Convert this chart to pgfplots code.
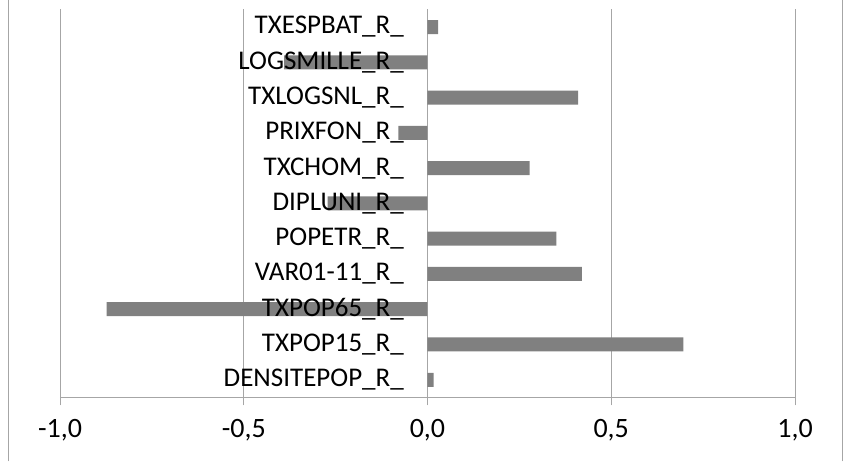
\documentclass[border=0pt]{standalone}
\usepackage{pgfplots}
\usepackage{fontspec}
\setmainfont{Carlito}
\pgfplotsset{compat=1.18}
\definecolor{barfill}{HTML}{808080}
\definecolor{linegray}{HTML}{A6A6A6}

\begin{document}
\fontsize{27}{32}\selectfont
\begin{tikzpicture}
\begin{axis}[
  scale only axis,
  width=735pt, height=388pt,
  xmin=-1, xmax=1,
  ymin=-0.5, ymax=10.5,
  axis x line=bottom,
  axis y line=middle,
  axis line style={-, linegray, line width=0.8pt},
  xtick={-1,-0.5,0,0.5,1},
  xticklabels={{-1,0},{-0,5},{0,0},{0,5},{1,0}},
  xmajorgrids,
  grid style={linegray, line width=0.8pt},
  ytick=\empty,
  minor ytick={-0.5,0.5,...,10.5},
  minor y tick style={linegray, line width=0.8pt},
  major x tick style={linegray, line width=0.8pt},
  tick align=outside,
  major tick length=8pt,
  minor tick length=8pt,
  xticklabel style={font=\fontsize{28}{33}\selectfont, yshift=-5pt},
  xbar, bar width=14pt, bar shift=0pt,
  clip=false,
]
\addplot[fill=barfill, draw=none] coordinates {
  (0.017,0) (0.696,1) (-0.873,2) (0.42,3) (0.351,4) (-0.272,5)
  (0.278,6) (-0.079,7) (0.41,8) (-0.39,9) (0.029,10)
};
% category names, drawn after the bars so they sit on top of them
\addplot[draw=none, fill=none, point meta=explicit symbolic,
  nodes near coords,
  nodes near coords style={anchor=east, xshift=-14.5pt, text=black,
    font=\fontsize{27}{32}\selectfont}] coordinates {
  (0,0) [DENSITEPOP\_R\_]
  (0,1) [TXPOP15\_R\_]
  (0,2) [TXPOP65\_R\_]
  (0,3) [VAR01-11\_R\_]
  (0,4) [POPETR\_R\_]
  (0,5) [DIPLUNI\_R\_]
  (0,6) [TXCHOM\_R\_]
  (0,7) [PRIXFON\_R\_]
  (0,8) [TXLOGSNL\_R\_]
  (0,9) [LOGSMILLE\_R\_]
  (0,10) [TXESPBAT\_R\_]
};
\draw[linegray, line width=0.8pt] (rel axis cs:-0.0707,-0.165) -- (rel axis cs:-0.0707,1.0232);
\draw[linegray, line width=0.8pt] (rel axis cs:1.0640,-0.165) -- (rel axis cs:1.0640,1.0232);
\path[use as bounding box] (rel axis cs:-0.0816,-0.165) rectangle (rel axis cs:1.0667,1.0232);
\end{axis}
\end{tikzpicture}
\end{document}
